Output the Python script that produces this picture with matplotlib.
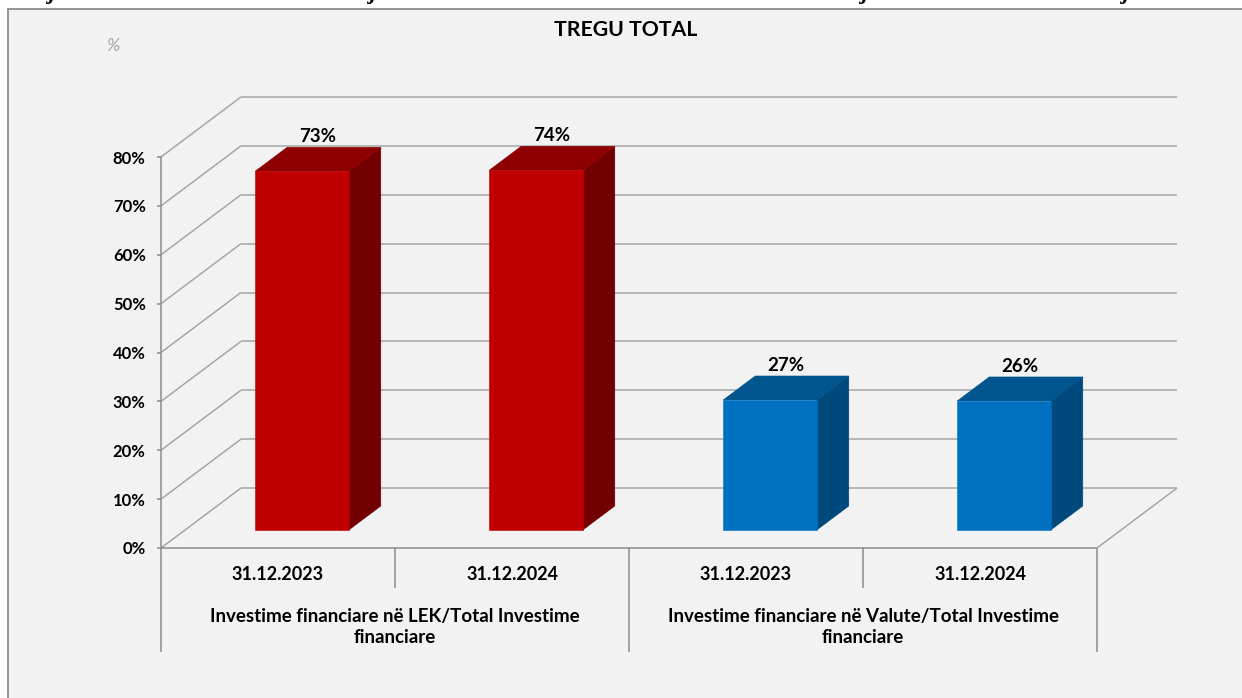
import matplotlib
matplotlib.use("Agg")
import matplotlib.pyplot as plt
import matplotlib.transforms as mtransforms
from matplotlib.patches import Polygon, Rectangle
from matplotlib.lines import Line2D

# ---------------- data ----------------
title = "TREGU TOTAL"
unit_label = "%"
categories = ["31.12.2023", "31.12.2024", "31.12.2023", "31.12.2024"]
groups = ["Investime financiare në LEK/Total Investime\nfinanciare",
          "Investime financiare në Valute/Total Investime\nfinanciare"]
group_of_bar = [0, 0, 1, 1]
values = [73.4, 73.6, 26.6, 26.4]
yticks = [0, 10, 20, 30, 40, 50, 60, 70, 80]
ytick_labels = [f"{t}%" for t in yticks]

# colours per group: (front, top, side)
group_colors = [("#c00000", "#8e0000", "#720000"),
                ("#0070c0", "#00558f", "#00497c")]
grid_color = "#a6a6a6"
axis_color = "#8c8c8c"

plt.rcParams["font.family"] = ["Lato", "DejaVu Sans"]

W, H = 1242, 698
fig = plt.figure(figsize=(W / 100, H / 100), dpi=100)
fig.patch.set_facecolor("white")

# chart frame
fig.add_artist(Rectangle((8 / W, 0), 1.0, (H - 9) / H, transform=fig.transFigure,
                         facecolor="#f2f2f2", edgecolor="none", zorder=0))
fig.add_artist(Line2D([8 / W, 1], [(H - 9) / H] * 2, transform=fig.transFigure,
                      color=axis_color, lw=1.3, zorder=1))
fig.add_artist(Line2D([8 / W] * 2, [0, (H - 9) / H], transform=fig.transFigure,
                      color=axis_color, lw=1.3, zorder=1))

# clipped descenders of text above the chart (document text cut off, as in the source)
for fx in [51, 372, 864, 1125]:
    fig.text(fx / W, 1 + 1.5 / H, "j", fontsize=17, fontstyle="italic", fontweight="bold",
             family="Liberation Serif", ha="center", va="baseline", color="black")

# front plane of the 3D box
L, R, B, T = 161, 1097, 548, 157
ax = fig.add_axes([L / W, 1 - B / H, (R - L) / W, (B - T) / H])
ax.set_xlim(-0.5, len(categories) - 0.5)
ax.set_ylim(0, 80)
ax.patch.set_visible(False)
for s in ["top", "right", "bottom"]:
    ax.spines[s].set_visible(False)
ax.spines["left"].set_color(axis_color)
ax.spines["left"].set_linewidth(1.1)
ax.set_xticks([])
ax.set_yticks(yticks)
ax.set_yticklabels(ytick_labels)
ax.tick_params(axis="y", length=3, width=1.1, color=axis_color, pad=8,
               labelsize=12)
for lab in ax.get_yticklabels():
    lab.set_fontweight("bold")

DX, DY = 80, 60  # depth offset in pixels for the full depth
ID = mtransforms.IdentityTransform()


def P(x, y, d):
    px, py = ax.transData.transform((x, y))
    return (px + DX * d, py + DY * d)


def line(p0, p1, color=grid_color, lw=1.1, z=1):
    ax.add_line(Line2D([p0[0], p1[0]], [p0[1], p1[1]], transform=ID, color=color,
                       lw=lw, clip_on=False, zorder=z, solid_capstyle="butt"))


x_lo, x_hi = -0.5, len(categories) - 0.5
# back wall + side wall gridlines
for t in yticks:
    line(P(x_lo, t, 1), P(x_hi, t, 1))
    line(P(x_lo, t, 0), P(x_lo, t, 1))
# floor right edge
line(P(x_hi, 0, 0), P(x_hi, 0, 1))
# floor front edge (category axis)
line(P(x_lo, 0, 0), P(x_hi, 0, 0), color=axis_color, z=4)

# bars
bw, d0, d1 = 0.4, 0.3, 0.7
for i, v in enumerate(values):
    front, top, side = group_colors[group_of_bar[i]]
    x0, x1 = i - bw / 2, i + bw / 2
    faces = [
        ([P(x1, 0, d0), P(x1, 0, d1), P(x1, v, d1), P(x1, v, d0)], side),
        ([P(x0, v, d0), P(x1, v, d0), P(x1, v, d1), P(x0, v, d1)], top),
        ([P(x0, 0, d0), P(x1, 0, d0), P(x1, v, d0), P(x0, v, d0)], front),
    ]
    for pts, c in faces:
        ax.add_patch(Polygon(pts, closed=True, transform=ID, facecolor=c,
                             edgecolor=c, lw=0.4, clip_on=False, zorder=3))
    lab_tr = mtransforms.offset_copy(ax.transData, fig=fig, x=DX * 0.5,
                                     y=DY * d1 + 2, units="dots")
    ax.text(i, v, f"{v:.0f}%", transform=lab_tr, ha="center", va="bottom",
            fontsize=13.5, fontweight="bold", color="black", clip_on=False, zorder=5)

# category axis separators below the floor
bounds = [b - 0.5 for b in range(len(categories) + 1)]
for b in bounds:
    p = P(b, 0, 0)
    is_group_edge = (b == x_lo) or (b == x_hi) or \
        (group_of_bar[int(b - 0.5)] != group_of_bar[int(b + 0.5)])
    length = 104 if is_group_edge else 40
    line(p, (p[0], p[1] - length), color=axis_color, z=4)

# date labels
for i, c in enumerate(categories):
    p = P(i, 0, 0)
    ax.text(p[0], p[1] - 27, c, transform=ID, ha="center", va="center",
            fontsize=13, fontweight="bold", clip_on=False)

# group labels
for g, name in enumerate(groups):
    idx = [i for i, gg in enumerate(group_of_bar) if gg == g]
    cx = (P(min(idx), 0, 0)[0] + P(max(idx), 0, 0)[0]) / 2
    y0 = P(0, 0, 0)[1]
    ax.text(cx, y0 - 79, name, transform=ID, ha="center", va="center",
            fontsize=13.5, fontweight="bold", linespacing=1.25, clip_on=False)

# title and unit
fig.text(626 / W, 1 - 30 / H, title, ha="center", va="center", fontsize=15.3,
         fontweight="bold")
fig.text(113 / W, 1 - 46 / H, unit_label, ha="center", va="center", fontsize=13,
         fontstyle="italic", color="#a6a6a6")

fig.savefig("out.png", dpi=100)
